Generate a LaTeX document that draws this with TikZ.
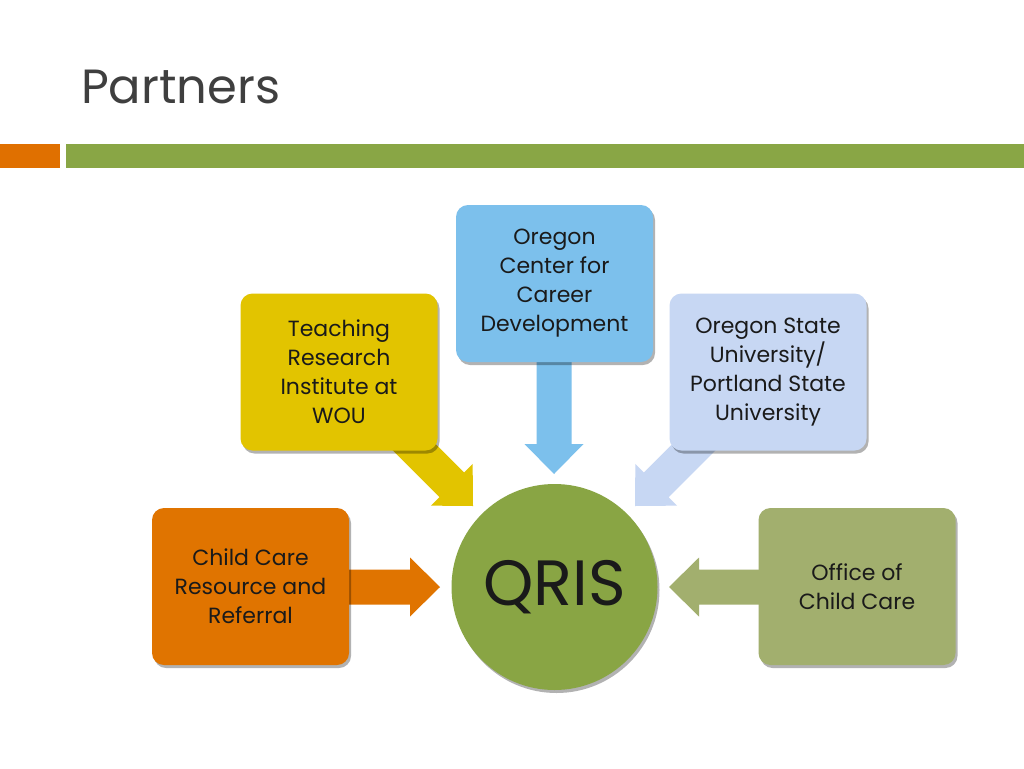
\documentclass[tikz,border=0pt]{standalone}
\usepackage{fontspec}
\setmainfont{Poppins}
\usetikzlibrary{shadows}
\definecolor{titlegray}{HTML}{3F3F3F}
\definecolor{barorange}{HTML}{E07000}
\definecolor{bargreen}{HTML}{89A645}
\definecolor{corange}{HTML}{E07400}
\definecolor{cyellow}{HTML}{E2C400}
\definecolor{cblue}{HTML}{7CC0EC}
\definecolor{clight}{HTML}{C7D7F3}
\definecolor{cgreen}{HTML}{A2AF6E}
\definecolor{ccircle}{HTML}{89A544}
\definecolor{txt}{HTML}{1A1A1A}
\tikzset{
  partner/.style={rounded corners=12pt, minimum width=197pt, minimum height=157pt,
    align=center, text=txt, inner sep=0pt,
    font=\fontsize{22}{29}\selectfont,
    drop shadow={shadow xshift=2pt, shadow yshift=-3pt, opacity=0.3, fill=black}},
  blockarrow/.pic={
    \fill[pic actions] (0,0) -- (-30,29.5) -- (-30,17.5) -- (-#1,17.5) -- (-#1,-17.5)
      -- (-30,-17.5) -- (-30,-29.5) -- cycle;
  },
}
\begin{document}
\begin{tikzpicture}[x=1pt,y=-1pt]
\useasboundingbox (0,0) rectangle (1024,768);
\fill[white] (0,0) rectangle (1024,768);
% title and bars
\node[anchor=base west, inner sep=0pt, text=titlegray, font=\fontsize{48}{58}\selectfont] (title) at (81,103) {Partners};
\fill[barorange] (0,144) rectangle (60,168);
\fill[bargreen] (66,144) rectangle (1024,168);
% arrow tips
\coordinate (tipO) at (440,587);
\coordinate (tipY) at (473,506);
\coordinate (tipB) at (554,474);
\coordinate (tipL) at (635,506);
\coordinate (tipG) at (669,587);
% block arrows (under the boxes)
\pic[fill=corange, rotate=0] at (tipO) {blockarrow=100};
\pic[fill=cyellow, rotate=-45] at (tipY) {blockarrow=100};
\pic[fill=cblue, rotate=-90] at (tipB) {blockarrow=125};
\pic[fill=clight, rotate=-135] at (tipL) {blockarrow=100};
\pic[fill=cgreen, rotate=180] at (tipG) {blockarrow=100};
% boxes
\node[partner, fill=corange] (ccrr) at (250.5,586.5) {Child Care\\Resource and\\Referral};
\node[partner, fill=cyellow] (tri) at (339,372) {Teaching\\Research\\Institute at\\WOU};
\node[partner, fill=cblue] (occd) at (554.5,283.5) {Oregon\\Center for\\Career\\Development};
\node[partner, fill=clight] (osu) at (768,372) {Oregon State\\University/\\Portland State\\University};
\node[partner, fill=cgreen] (occ) at (857,586.5) {Office of\\Child Care};
% center
\node[circle, fill=ccircle, minimum size=206pt, inner sep=0pt, text=txt,
  font=\fontsize{64}{70}\selectfont,
  drop shadow={shadow xshift=2pt, shadow yshift=-3pt, opacity=0.3, fill=black}] (qris) at (554.5,587) {QRIS};
\end{tikzpicture}
\end{document}
